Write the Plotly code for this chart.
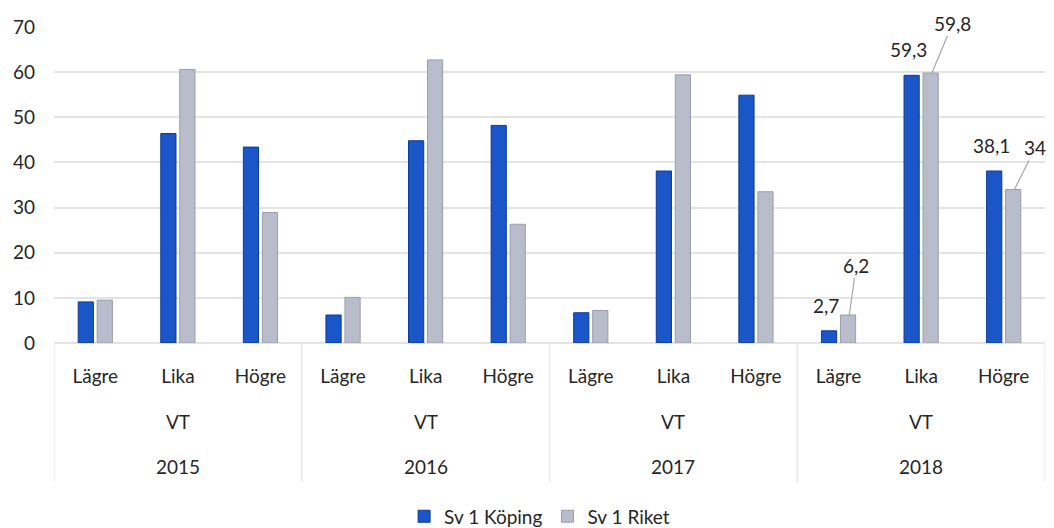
import plotly.graph_objects as go

# Data
years = ['2015', '2016', '2017', '2018']
term = 'VT'
levels = ['Lägre', 'Lika', 'Högre']
koping = [9.1, 46.4, 43.4, 6.2, 44.8, 48.2, 6.7, 38.1, 54.9, 2.7, 59.3, 38.1]
riket = [9.5, 60.6, 28.9, 10.1, 62.7, 26.3, 7.2, 59.4, 33.5, 6.2, 59.8, 34]
# only the last year carries data labels
labelled = [9, 10, 11]
# leader line offsets (px) for the grey labels
leader = [(7, -50), (21, -50), (21, -42)]

x = list(range(len(years) * len(levels)))
ticktext = levels * len(years)

def fmt(v):
    return ('%g' % v).replace('.', ',')

fig = go.Figure()
fig.add_trace(go.Bar(x=x, y=koping, name='Sv 1 Köping',
                     marker=dict(color='#1a56c8', line=dict(color='#0c3a96', width=1))))
fig.add_trace(go.Bar(x=x, y=riket, name='Sv 1 Riket',
                     marker=dict(color='#b8bccb', line=dict(color='#9c9ea6', width=1))))

font = dict(family='Lato, Open Sans, sans-serif', size=19, color='#262626')
ann = []
for k, i in enumerate(labelled):
    # blue labels sit straight above the bar
    ann.append(dict(x=i - 0.15, y=koping[i], xref='x', yref='y', text=fmt(koping[i]),
                    showarrow=False, yanchor='bottom', yshift=12, font=font))
    # grey labels use a leader line
    ann.append(dict(x=i + 0.13, y=riket[i], xref='x', yref='y', text=fmt(riket[i]),
                    showarrow=True, arrowhead=0, arrowcolor='#a6a6a6', arrowwidth=1.2,
                    ax=leader[k][0], ay=leader[k][1], font=font))

for g, yr in enumerate(years):
    c = g * len(levels) + 1
    ann.append(dict(x=c, y=0, xref='x', yref='paper', text=term, showarrow=False,
                    yanchor='middle', yshift=-78, font=font))
    ann.append(dict(x=c, y=0, xref='x', yref='paper', text=yr, showarrow=False,
                    yanchor='middle', yshift=-123, font=font))

shapes = []
for g in range(len(years) + 1):
    xb = g * len(levels) - 0.5
    shapes.append(dict(type='line', xref='x', yref='paper', x0=xb, x1=xb, y0=0, y1=-0.44,
                       line=dict(color='#e8e8e8', width=1.5)))

fig.update_layout(
    width=1054, height=528,
    margin=dict(l=54, r=9, t=27, b=185, autoexpand=False),
    paper_bgcolor='white', plot_bgcolor='white',
    barmode='group', bargap=0.54, bargroupgap=0.2,
    font=font,
    showlegend=True,
    legend=dict(orientation='h', x=0.49, xanchor='center', yref='container', y=0.022,
                yanchor='middle', font=font, itemwidth=30),
    annotations=ann, shapes=shapes,
    xaxis=dict(tickmode='array', tickvals=x, ticktext=ticktext, range=[-0.5, len(x) - 0.5],
               showgrid=False, zeroline=False, showline=False, ticks='', tickfont=font,
               ticklabelstandoff=20, automargin=False),
    yaxis=dict(range=[0, 70], dtick=10, showgrid=True, gridcolor='#e4e4e4', gridwidth=1.5,
               zeroline=True, zerolinecolor='#e4e4e4', zerolinewidth=1.5,
               showline=False, ticks='', ticklabelstandoff=18, tickfont=font,
               automargin=False),
)

# drop the default page margin so the figure fills the window
fig.write_html('out.html', config={'displayModeBar': False},
               post_script="document.body.style.margin='0';")
